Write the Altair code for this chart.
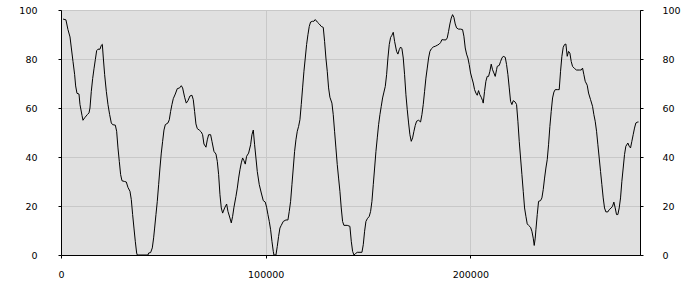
import altair as alt
import pandas as pd

x_vals = [
    1000, 2400, 3400, 4400, 5050, 5860, 6670, 7160, 7810, 8790, 9280, 10260, 10740, 11560, 12860, 13680,
    14160, 14810, 15470, 16120, 16770, 17420, 18070, 19050, 19700, 20190, 20680, 21330, 22140, 22950,
    23770, 24580, 25230, 26540, 27190, 27840, 28490, 29140, 29790, 31090, 31910, 32720, 33700, 34350,
    35000, 35650, 36300, 36960, 37280, 42490, 42820, 43790, 44610, 45260, 45750, 46400, 47050, 47700,
    48350, 49000, 49660, 50310, 50960, 52260, 52910, 53560, 54210, 54860, 55840, 56820, 57960, 58770,
    59420, 60400, 61210, 62030, 63000, 63980, 64630, 65280, 65930, 66580, 67560, 68540, 69190, 69840,
    70830, 71480, 72130, 73110, 73760, 74740, 75720, 76370, 77020, 77670, 78320, 78970, 79950, 80930,
    81580, 82550, 83200, 83860, 84510, 85480, 86140, 86790, 87440, 88090, 88740, 89390, 90040, 90690,
    91670, 92650, 93300, 93950, 94600, 95250, 95900, 96880, 97860, 98830, 99810, 100460, 101110, 101760,
    102420, 103070, 103720, 104040, 105020, 105670, 106320, 106970, 107620, 108600, 109900, 110880,
    111530, 112180, 112830, 113490, 114140, 114790, 115440, 116090, 116740, 117390, 118040, 118700,
    119350, 120000, 120650, 121300, 121950, 122930, 123580, 124230, 125210, 126180, 127160, 128140,
    128790, 129440, 130090, 130740, 131390, 132370, 133020, 133670, 134320, 134980, 135630, 136280,
    136930, 137580, 138230, 139860, 141160, 141830, 142480, 143130, 143790, 144760, 147040, 147690,
    148340, 148990, 149650, 150620, 151270, 151920, 152580, 153230, 153880, 154530, 155180, 155830,
    156480, 157130, 157790, 158440, 159090, 159740, 160390, 161040, 161690, 162340, 163000, 163970,
    164620, 165270, 165930, 166580, 167230, 167880, 168530, 169180, 169830, 170480, 171140, 171790,
    172440, 173090, 173740, 174720, 175690, 176340, 176990, 177650, 178300, 178950, 179600, 180250,
    180900, 181880, 182860, 183830, 184810, 185460, 186110, 187090, 188070, 188720, 189370, 190020,
    190670, 191320, 191970, 192620, 193280, 194250, 195230, 196210, 196860, 197510, 198160, 198810,
    199460, 200110, 200770, 201420, 202070, 202720, 203370, 204020, 204670, 205320, 205970, 206300,
    206950, 207600, 208250, 208900, 209560, 210210, 210860, 211510, 212160, 212810, 213150, 214130,
    214780, 215430, 216080, 217060, 217710, 218360, 219010, 219660, 220310, 220970, 221940, 222590,
    223240, 223900, 224550, 225200, 225850, 226500, 227150, 227800, 228450, 229430, 230080, 230730,
    231220, 231710, 232040, 232690, 233340, 234320, 234970, 235620, 236270, 236920, 237570, 238220,
    238870, 239520, 240180, 240830, 241480, 242460, 243430, 244080, 244730, 245390, 246040, 246690,
    247340, 247990, 248640, 249290, 249940, 250920, 251900, 253200, 254180, 254830, 255480, 256130,
    257110, 257760, 258740, 259710, 260360, 261010, 261670, 262320, 262970, 263620, 264270, 264920,
    265570, 266220, 267200, 267850, 268830, 269480, 270130, 270780, 271430, 272080, 272740, 273390,
    274040, 274690, 275340, 275990, 276970, 277620, 278270, 278920, 279570, 280220, 280880, 281850,
    282180,
]

y_vals = [
    96.3, 96, 92, 89, 84.5, 79, 73.6, 69, 66, 65.7, 61.4, 57, 55, 56, 57.3, 58,
    60, 66.8, 72, 76, 79.7, 83.4, 84, 84, 85.6, 86, 80.4, 73.6, 66.8, 61.4,
    57.3, 53.9, 53.2, 53, 50.5, 43.7, 38.2, 32.8, 30.3, 30, 29.8, 27.6, 26, 22.6,
    16.5, 11, 5.6, 0.8, 0, 0, 0.8, 1, 2.9, 7, 11, 16.5, 21.9, 28.7,
    35.5, 41.6, 46.4, 51, 53.2, 53.9, 55.2, 58.6, 61.4, 63.8, 65.7, 67.9, 68.2, 69.1,
    68.2, 64.4, 62, 63, 64.9, 65.2, 63.4, 58.6, 53.5, 51.6, 51, 50.2, 49.1, 45.3,
    44, 47, 49.1, 49.1, 46.4, 42.3, 41.2, 38.2, 32.8, 24.6, 19.2, 17.1, 19.2, 20.8,
    17.8, 15.1, 13.1, 15.8, 19.5, 23.9, 27.3, 31.4, 34.8, 37.6, 39.6, 38.5, 37.1, 40.3,
    41.6, 45, 49.1, 51, 45, 39.6, 34.1, 28.7, 25.3, 22.2, 21.6, 19.5, 16.5, 13.7,
    10.3, 5.6, 1.5, 0, 0, 3.5, 7.6, 11, 12.1, 13.7, 14.3, 14.3,
    17.8, 21.9, 28.7, 35.5, 42.3, 47, 50.5, 52.5, 55.2, 61.4, 68.2, 75,
    80.4, 85.9, 89.9, 93.3, 95.1, 95.4, 95.4, 96.1, 95.1, 94.3, 93.3, 92.9,
    87.2, 80.4, 75, 68.2, 64.4, 62, 57.3, 50.5, 43.7, 36.9, 31.4, 26,
    19.2, 13.7, 12.1, 12.1, 11.7, 5.6, 1.5, 0, 0.5, 1.1, 1.1, 4.2,
    9.7, 13.7, 14.8, 15.8, 17.8, 21.9, 28.7, 35.5, 42.3, 47.8, 53.2, 57.3,
    60.7, 64.1, 66.5, 68.8, 73.6, 80.4, 85.9, 88.8, 89.7, 90.9, 87.2, 83.1,
    82, 83.8, 84.9, 84.2, 80.4, 73.6, 65.4, 59.3, 53.9, 49.1, 46.4, 47.8,
    50.5, 52.9, 54.6, 55, 54.3, 57.3, 61.4, 66.8, 72.2, 76.3, 80.4, 83.1,
    84.1, 84.9, 85.2, 85.6, 86.1, 86.7, 87.9, 87.8, 87.8, 88.6, 91.3, 94.3,
    96.7, 98.1, 97, 94.3, 92.7, 92.2, 92.2, 92, 89.3, 84.5, 82, 80.4,
    77.7, 74.3, 72.2, 70.2, 67.5, 66.1, 65.2, 67.1, 65.4, 64.4, 63, 62,
    66.8, 70.9, 72.9, 72.9, 75, 77.9, 75.6, 74.3, 72.9, 75.6, 77, 77.4,
    79, 80.4, 81.1, 80.7, 77.7, 73.6, 68.2, 62.7, 61.4, 63, 62.4, 61.4,
    54.6, 46.4, 39.6, 32.8, 26, 19.2, 15.8, 12.7, 12.1, 11.3, 9.7, 6.9,
    3.9, 6.9, 10.3, 16.5, 21.9, 22.2, 23.3, 26.7, 31.4, 35.5, 38.9, 45,
    52.5, 58.6, 64.1, 66.5, 67.5, 67.5, 67.5, 75, 81.1, 84.8, 85.9, 86.1,
    81.1, 83.1, 82.4, 79, 77, 76.1, 75.5, 75.5, 75.5, 76.3, 73.6, 70.9,
    69.3, 66.1, 63.4, 60.7, 57.3, 54.6, 50.5, 45, 39.6, 34.1, 28.7, 23.3,
    19.2, 17.6, 17.6, 18.5, 19.2, 19.9, 21.6, 19.2, 16.5, 16.5, 19.2, 23.3,
    30.1, 35.5, 41, 44.4, 45.7, 44.4, 43.7, 46.4, 49.1, 51.8, 53.9, 54.3,
    54.3,
]

x_ticks = [0, 100000, 200000]
y_ticks = [0, 20, 40, 60, 80, 100]

df = pd.DataFrame({"x": x_vals, "y": y_vals})

FONT = "DejaVu Sans"

x_enc = alt.X(
    "x:Q",
    scale=alt.Scale(domain=[0, 282900], nice=False, zero=False),
    axis=alt.Axis(
        values=x_ticks, format="d", title=None, grid=True, gridColor="#c8c8c8",
        domainColor="black", tickColor="black", tickSize=3, labelPadding=11,
        labelFont=FONT, labelFontSize=9.5, labelColor="black", labelFlush=False,
    ),
)

y_scale = alt.Scale(domain=[0, 100], nice=False)

left = alt.Chart(df).mark_line(color="black", strokeWidth=1).encode(
    x=x_enc,
    y=alt.Y(
        "y:Q", scale=y_scale,
        axis=alt.Axis(
            orient="left", values=y_ticks, title=None, grid=True, gridColor="#c8c8c8",
            domainColor="black", tickColor="black", tickSize=3, labelPadding=21,
            labelFont=FONT, labelFontSize=9.5, labelColor="black", labelFlush=False,
        ),
    ),
)

right = alt.Chart(df).mark_line(color="black", strokeWidth=1, opacity=0).encode(
    x=x_enc,
    y=alt.Y(
        "y:Q", scale=y_scale,
        axis=alt.Axis(
            orient="right", values=y_ticks, title=None, grid=False,
            domainColor="black", tickColor="black", tickSize=3, labelPadding=19,
            labelFont=FONT, labelFontSize=9.5, labelColor="black", labelFlush=False,
        ),
    ),
)

chart = (
    alt.layer(left, right)
    .resolve_axis(y="independent")
    .properties(
        width=579, height=245,
        autosize=alt.AutoSizeParams(type="none"),
        padding={"left": 61, "top": 10, "right": 60, "bottom": 45},
        background="white",
    )
    .configure_view(fill="#e0e0e0", stroke="black", strokeWidth=1)
)

chart.save("out.html", embed_options={"renderer": "svg", "actions": False})
